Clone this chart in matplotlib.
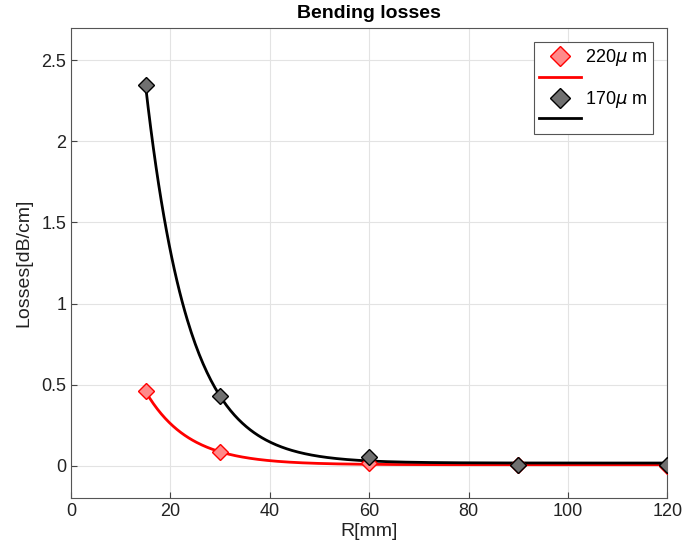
import numpy as np
import matplotlib.pyplot as plt

plt.rcParams['font.family'] = ['Liberation Sans', 'DejaVu Sans']

# measured points
R = [15, 30, 60, 90, 120]
loss_220 = [0.458, 0.085, 0.018, 0.004, 0.0]
loss_170 = [2.345, 0.427, 0.056, 0.006, 0.003]

labels = ['220$\\mu$ m', '170$\\mu$ m']


def exp_fit(x, y):
    # y = a*exp(b*x) + c, scan b and solve a, c by least squares
    x = np.asarray(x, float)
    y = np.asarray(y, float)
    best = None
    for b in np.linspace(-0.5, -0.01, 2000):
        A = np.column_stack([np.exp(b * x), np.ones_like(x)])
        coef = np.linalg.lstsq(A, y, rcond=None)[0]
        err = np.sum((A @ coef - y) ** 2)
        if best is None or err < best[0]:
            best = (err, coef[0], b, coef[1])
    _, a, b, c = best
    return lambda t: a * np.exp(b * t) + c


fig = plt.figure(figsize=(6.83, 5.56), dpi=100)
ax = fig.add_axes([0.104, 0.104, 0.873, 0.846])

xs = np.linspace(min(R), max(R), 400)
f220 = exp_fit(R, loss_220)
f170 = exp_fit(R, loss_170)

h1, = ax.plot(R, loss_220, 'D', ms=8.5, mfc='#ff8a8a', mec='red', mew=1.0, zorder=3)
h2, = ax.plot(xs, f220(xs), color='red', lw=2, zorder=2)
h3, = ax.plot(R, loss_170, 'D', ms=8.5, mfc='#707070', mec='black', mew=1.0, zorder=3)
h4, = ax.plot(xs, f170(xs), color='black', lw=2, zorder=2)

ax.set_xlim(0, 120)
ax.set_ylim(-0.2, 2.7)
ax.set_xticks([0, 20, 40, 60, 80, 100, 120])
ax.set_yticks([0, 0.5, 1, 1.5, 2, 2.5])
ax.set_yticklabels(['0', '0.5', '1', '1.5', '2', '2.5'])
ax.grid(True, color='#e3e3e3', lw=0.8)
ax.set_axisbelow(True)
ax.tick_params(direction='in', length=4, labelsize=13, color='#444444', labelcolor='#222222')
for s in ax.spines.values():
    s.set_color('#555555')
    s.set_linewidth(0.8)

ax.set_xlabel('R[mm]', fontsize=14, color='#222222', labelpad=2)
ax.set_ylabel('Losses[dB/cm]', fontsize=14, color='#222222', labelpad=6)
ax.set_title('Bending losses', fontsize=14, fontweight='bold', pad=7)

leg = ax.legend([h1, h2, h3, h4], [labels[0], ' ', labels[1], ' '],
                loc='upper right', bbox_to_anchor=(1, 1), borderaxespad=0.78,
                fontsize=13, fancybox=False, edgecolor='#555555',
                handlelength=2.3, borderpad=0.3, labelspacing=0.1,
                handletextpad=0.25, framealpha=1, markerscale=1.2)
leg.get_frame().set_linewidth(0.8)

fig.savefig('out.png', dpi=100)
